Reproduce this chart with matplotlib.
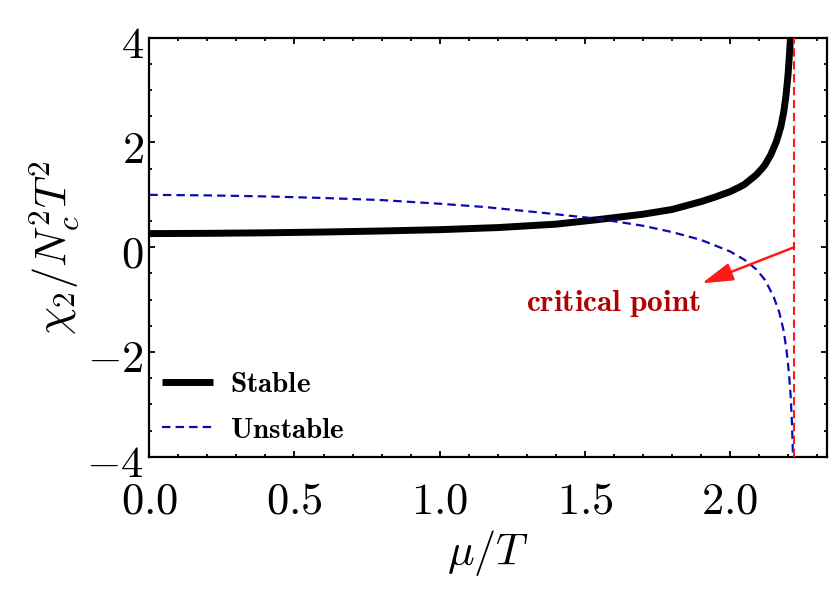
import numpy as np
import matplotlib
matplotlib.use("Agg")
import matplotlib.pyplot as plt
from matplotlib.ticker import FixedLocator, FixedFormatter, MultipleLocator
import matplotlib.transforms as mtransforms

plt.rcParams['mathtext.fontset'] = 'cm'
plt.rcParams['font.family'] = ['DejaVu Serif']

# ---- data ----
stable_x = [0.0, 0.2, 0.4, 0.6, 0.8, 1.0, 1.2, 1.4, 1.55, 1.7, 1.8, 1.9, 1.95, 2.0,
            2.03, 2.05, 2.07, 2.09, 2.11, 2.12, 2.14, 2.16, 2.175, 2.185, 2.193, 2.2, 2.205, 2.209, 2.212]
stable_y = [0.26, 0.265, 0.275, 0.29, 0.31, 0.335, 0.375, 0.44, 0.53, 0.63, 0.72, 0.87, 0.96, 1.06,
            1.14, 1.2, 1.29, 1.38, 1.5, 1.57, 1.76, 2.02, 2.3, 2.58, 2.9, 3.3, 3.7, 4.05, 4.4]

unstable_x = [0.0, 0.2, 0.4, 0.6, 0.8, 1.0, 1.15, 1.35, 1.55, 1.7, 1.8, 1.9, 2.0,
              2.05, 2.09, 2.12, 2.15, 2.17, 2.185, 2.195, 2.203, 2.209, 2.213, 2.216, 2.218]
unstable_y = [1.0, 0.99, 0.97, 0.94, 0.90, 0.83, 0.77, 0.66, 0.54, 0.41, 0.29, 0.14, -0.08,
              -0.24, -0.42, -0.62, -0.94, -1.25, -1.6, -1.98, -2.4, -2.85, -3.3, -3.8, -4.3]

critical_mu = 2.221
arrow_tail = (2.221, 0.0)
arrow_head = (1.903, -0.69)
label_pos = (1.60, -1.07)

xtick_vals = [0.0, 0.5, 1.0, 1.5, 2.0]
xtick_labels = ["0.0", "0.5", "1.0", "1.5", "2.0"]
ytick_vals = [-4, -2, 0, 2, 4]
ytick_labels = ["-4", "-2", "0", "2", "4"]

fig = plt.figure(figsize=(8.30, 5.97), dpi=100)
ax = fig.add_axes([0.1799, 0.2350, 0.8168, 0.7018])

ax.plot(stable_x, stable_y, color='black', lw=5.0, solid_capstyle='butt', label=r'$\mathbf{Stable}$', zorder=3)
ax.plot(unstable_x, unstable_y, color='#0a0ab4', lw=1.6, ls=(0, (3.8, 2.3)), label=r'$\mathbf{Unstable}$', zorder=4)
ax.axvline(critical_mu, color='#ff1a1a', lw=1.5, ls=(0, (4, 2.2)), zorder=5)

ax.annotate('', xy=arrow_head, xytext=arrow_tail,
            arrowprops=dict(arrowstyle='-|>,head_length=1.9,head_width=0.55', color='#ff1a1a', lw=1.8,
                            shrinkA=0, shrinkB=0), zorder=6)
ax.text(label_pos[0], label_pos[1], r'$\mathbf{critical\ point}$', color='#b00000',
        fontsize=22.5, ha='center', va='center')

ax.set_xlim(0, 2.335)
ax.set_ylim(-4, 4)

ax.xaxis.set_major_locator(FixedLocator(xtick_vals))
ax.xaxis.set_major_formatter(FixedFormatter(['$' + s + '$' for s in xtick_labels]))
ax.xaxis.set_minor_locator(MultipleLocator(0.1))
ax.yaxis.set_major_locator(FixedLocator(ytick_vals))
ax.yaxis.set_major_formatter(FixedFormatter(['$' + s + '$' for s in ytick_labels]))
ax.yaxis.set_minor_locator(MultipleLocator(0.5))

ax.tick_params(which='both', direction='in', top=True, right=True, width=1.3, color='black')
ax.tick_params(which='major', length=4, labelsize=32)
ax.tick_params(which='minor', length=2.5)
ax.tick_params(axis='x', which='major', pad=16)
ax.tick_params(axis='y', which='major', pad=4)
for sp in ax.spines.values():
    sp.set_linewidth(1.6)

offset = mtransforms.ScaledTranslation(0, -3 / 100, fig.dpi_scale_trans)
for lab in ax.get_yticklabels():
    lab.set_transform(lab.get_transform() + offset)

ax.set_xlabel(r'$\mu/T$', fontsize=32, labelpad=4)
ax.set_ylabel(r'$\chi_2/N_c^2T^2$', fontsize=32, labelpad=4)

leg = ax.legend(loc='lower left', frameon=False, fontsize=21, handlelength=1.75,
                handletextpad=0.55, labelspacing=0.6, borderaxespad=0.05, borderpad=0.4,
                bbox_to_anchor=(0.0, 0.0))

fig.savefig('out.png', dpi=100)
